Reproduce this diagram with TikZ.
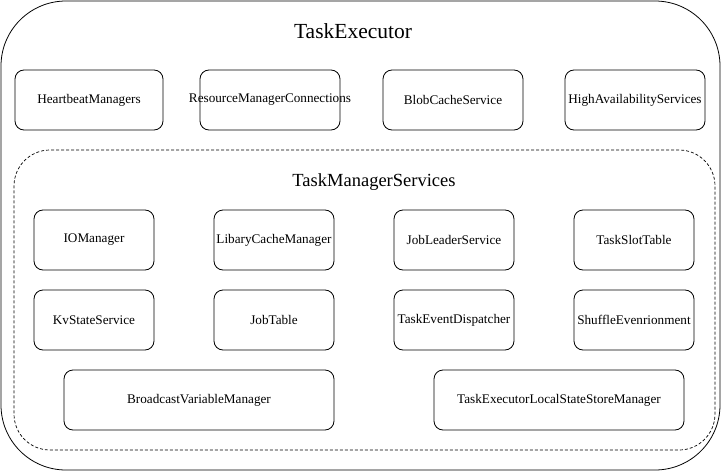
\documentclass[tikz,border=0pt]{standalone}
\usepackage{fontspec}
\setmainfont{Liberation Serif}
\begin{document}
\begin{tikzpicture}[x=1pt,y=-1pt,
  box/.style={draw, line width=0.8pt, rounded corners=9pt, inner sep=0pt, font=\fontsize{13.2}{15}\selectfont},
  outerbox/.style={draw, line width=0.8pt, rounded corners=65pt, inner sep=0pt},
  dashbox/.style={draw, line width=0.7pt, dashed, dash pattern=on 3pt off 2pt, rounded corners=36pt, inner sep=0pt},
  title/.style={inner sep=0pt, font=\fontsize{21.5}{24}\selectfont},
  subtitle/.style={inner sep=0pt, font=\fontsize{18.5}{20}\selectfont}]
\useasboundingbox (0,0) rectangle (721,471);
\node[outerbox, minimum width=719pt, minimum height=469pt] (te) at (360.5,235.5) {};
\node[title] (tet) at (353,31) {TaskExecutor};
\node[dashbox, minimum width=701pt, minimum height=300pt] (tms) at (364.5,300) {};
\node[subtitle] (tmst) at (374,182) {TaskManagerServices};
% top row
\node[box, minimum width=148pt, minimum height=60pt] (hb) at (89,100) {HeartbeatManagers};
\node[box, minimum width=140pt, minimum height=60pt] (rmc) at (270,100) {};
\node[inner sep=0pt, font=\fontsize{13.2}{15}\selectfont] (rmct) at (rmc.center) {ResourceManagerConnections};
\node[box, minimum width=140pt, minimum height=60pt] (bcs) at (453,100) {BlobCacheService};
\node[box, minimum width=140pt, minimum height=60pt] (has) at (635,100) {HighAvailabilityServices};
% row 1
\node[box, minimum width=120pt, minimum height=60pt] (io) at (94,240) {IOManager};
\node[box, minimum width=120pt, minimum height=60pt] (lcm) at (274,240) {LibaryCacheManager};
\node[box, minimum width=120pt, minimum height=60pt] (jls) at (454,240) {JobLeaderService};
\node[box, minimum width=120pt, minimum height=60pt] (tst) at (634,240) {TaskSlotTable};
% row 2
\node[box, minimum width=120pt, minimum height=60pt] (kvs) at (94,320) {KvStateService};
\node[box, minimum width=120pt, minimum height=60pt] (jt) at (274,320) {JobTable};
\node[box, minimum width=120pt, minimum height=60pt] (ted) at (454,320) {TaskEventDispatcher};
\node[box, minimum width=120pt, minimum height=60pt] (se) at (634,320) {ShuffleEvenrionment};
% row 3
\node[box, minimum width=270pt, minimum height=60pt] (bvm) at (199,400) {BroadcastVariableManager};
\node[box, minimum width=250pt, minimum height=60pt] (tel) at (559,400) {TaskExecutorLocalStateStoreManager};
\end{tikzpicture}
\end{document}
